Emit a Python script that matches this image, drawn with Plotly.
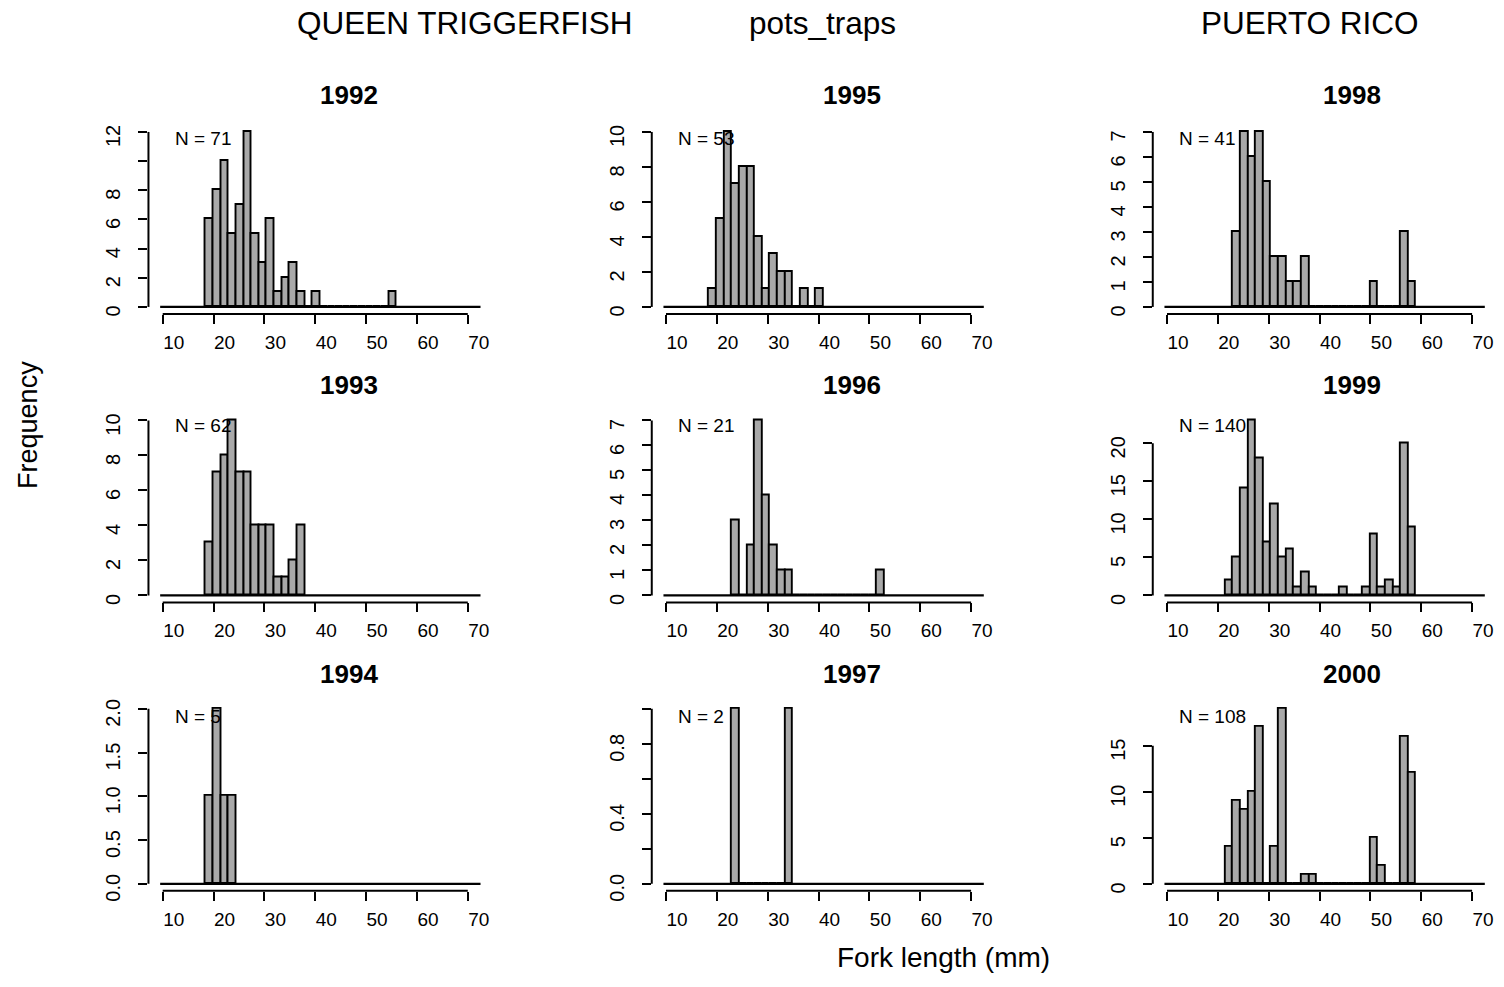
import plotly.graph_objects as go

# ---------------- data ----------------
BREAK_START = 9.5          # first histogram break (mm)
BIN_WIDTH = 1.5            # histogram bin width (mm)
N_BINS = 42                # number of bins (breaks 9.5 .. 72.5)

years = [1992, 1993, 1994, 1995, 1996, 1997, 1998, 1999, 2000]

# index of the first listed bin, followed by counts of consecutive bins
first_bin = {1992: 6, 1993: 6, 1994: 6, 1995: 6, 1996: 9, 1997: 9,
             1998: 9, 1999: 8, 2000: 8}
counts_1992 = [6, 8, 10, 5, 7, 12, 5, 3, 6, 1, 2, 3, 1, 0, 1, 0, 0, 0, 0, 0, 0, 0, 0, 0, 1]
counts_1993 = [3, 7, 8, 10, 7, 7, 4, 4, 4, 1, 1, 2, 4]
counts_1994 = [1, 2, 1, 1]
counts_1995 = [1, 5, 10, 7, 8, 8, 4, 1, 3, 2, 2, 0, 1, 0, 1]
counts_1996 = [3, 0, 2, 7, 4, 2, 1, 1, 0, 0, 0, 0, 0, 0, 0, 0, 0, 0, 0, 1]
counts_1997 = [1, 0, 0, 0, 0, 0, 0, 1]
counts_1998 = [3, 7, 6, 7, 5, 2, 2, 1, 1, 2, 0, 0, 0, 0, 0, 0, 0, 0, 1, 0, 0, 0, 3, 1]
counts_1999 = [2, 5, 14, 23, 18, 7, 12, 5, 6, 1, 3, 1, 0, 0, 0, 1, 0, 0, 1, 8, 1, 2, 1, 20, 9]
counts_2000 = [4, 9, 8, 10, 17, 0, 4, 19, 0, 0, 1, 1, 0, 0, 0, 0, 0, 0, 0, 5, 2, 0, 0, 16, 12]
counts = {1992: counts_1992, 1993: counts_1993, 1994: counts_1994,
          1995: counts_1995, 1996: counts_1996, 1997: counts_1997,
          1998: counts_1998, 1999: counts_1999, 2000: counts_2000}

x_ticks = [10, 20, 30, 40, 50, 60, 70]
y_ticks = {
    1992: [0, 2, 4, 6, 8, 10, 12],
    1993: [0, 2, 4, 6, 8, 10],
    1994: [0, 0.5, 1.0, 1.5, 2.0],
    1995: [0, 2, 4, 6, 8, 10],
    1996: [0, 1, 2, 3, 4, 5, 6, 7],
    1997: [0, 0.2, 0.4, 0.6, 0.8, 1.0],
    1998: [0, 1, 2, 3, 4, 5, 6, 7],
    1999: [0, 5, 10, 15, 20],
    2000: [0, 5, 10, 15],
}
y_ticktext = {
    1992: ["0", "2", "4", "6", "8", "", "12"],
    1993: ["0", "2", "4", "6", "8", "10"],
    1994: ["0.0", "0.5", "1.0", "1.5", "2.0"],
    1995: ["0", "2", "4", "6", "8", "10"],
    1996: ["0", "1", "2", "3", "4", "5", "6", "7"],
    1997: ["0.0", "", "0.4", "", "0.8", ""],
    1998: ["0", "1", "2", "3", "4", "5", "6", "7"],
    1999: ["0", "5", "10", "15", "20"],
    2000: ["0", "5", "10", "15"],
}
top_titles = ["QUEEN TRIGGERFISH", "pots_traps", "PUERTO RICO"]
x_title = "Fork length (mm)"
y_title = "Frequency"

# ---------------- geometry (pixels) ----------------
W, H = 1504, 987
FONT = "Liberation Sans, Arial, Helvetica, sans-serif"
col_tick10 = [162.7, 666.0, 1167.0]     # pixel x of the "10" tick per column
row_base = [308.3, 601.0, 893.5]        # pixel y of zero per row
PX_PER_MM = 5.085
Y_SPAN = 177.5                          # pixels from 0 to max count
XMIN = 7.2
PANEL_W = 345.0
title_x = [349, 852, 1352]
title_y = [93, 388, 681]
nlab_y = [137, 429, 724]
top_title_x = [464, 822, 1310]

fig = go.Figure()
layout = dict(width=W, height=H, margin=dict(l=0, r=0, t=0, b=0),
              paper_bgcolor="white", plot_bgcolor="white", showlegend=False,
              bargap=0, font=dict(family=FONT, color="black"))
shapes = []
annotations = []

for k, yr in enumerate(years):
    c, r = k // 3, k % 3
    n = k + 1
    xa = "xaxis" if n == 1 else f"xaxis{n}"
    ya = "yaxis" if n == 1 else f"yaxis{n}"
    xr = "x" if n == 1 else f"x{n}"
    yr_ref = "y" if n == 1 else f"y{n}"

    cnt = counts[yr]
    i0 = first_bin[yr]
    centers = [BREAK_START + BIN_WIDTH * (i0 + j + 0.5) for j in range(len(cnt))]
    M = max(cnt)

    left = col_tick10[c] - (10 - XMIN) * PX_PER_MM
    right = left + PANEL_W
    bottom = row_base[r] + 0.04 * Y_SPAN
    top = row_base[r] - 1.04 * Y_SPAN

    fig.add_trace(go.Bar(x=centers, y=cnt, width=BIN_WIDTH, xaxis=xr, yaxis=yr_ref,
                         marker=dict(color="#a9a9a9", line=dict(color="black", width=1.9)),
                         hoverinfo="x+y"))

    layout[xa] = dict(domain=[left / W, right / W], range=[XMIN, XMIN + PANEL_W / PX_PER_MM],
                      anchor=yr_ref, showgrid=False, zeroline=False, showline=False,
                      ticks="outside", ticklen=9, tickwidth=2, tickcolor="black",
                      tickvals=x_ticks, ticktext=[str(v) for v in x_ticks],
                      tickfont=dict(size=19, family=FONT), ticklabelstandoff=2,
                      ticklabelshift=11, fixedrange=True)
    layout[ya] = dict(domain=[1 - bottom / H, 1 - top / H], range=[-0.04 * M, 1.04 * M],
                      anchor=xr, showgrid=False, zeroline=False, showline=False,
                      ticks="outside", ticklen=9, tickwidth=2, tickcolor="black",
                      tickvals=y_ticks[yr], ticktext=y_ticktext[yr], tickangle=-90,
                      tickfont=dict(size=20, family=FONT), ticklabelstandoff=10,
                      ticklabelshift=7, fixedrange=True)

    # zero-height bins of the histogram (baseline across all breaks)
    shapes.append(dict(type="line", xref=xr, yref=yr_ref, x0=BREAK_START,
                       x1=BREAK_START + N_BINS * BIN_WIDTH, y0=0, y1=0,
                       line=dict(color="black", width=2.2), layer="above"))
    # x axis line spanning first..last tick
    shapes.append(dict(type="line", xref=xr, yref=f"{yr_ref} domain", x0=x_ticks[0],
                       x1=x_ticks[-1], y0=0, y1=0, line=dict(color="black", width=2)))
    # y axis line spanning first..last tick
    shapes.append(dict(type="line", xref=f"{xr} domain", yref=yr_ref, x0=0, x1=0,
                       y0=y_ticks[yr][0], y1=y_ticks[yr][-1],
                       line=dict(color="black", width=2)))

    annotations.append(dict(text=f"<b>{yr}</b>", xref="paper", yref="paper",
                            x=title_x[c] / W, y=1 - title_y[r] / H, showarrow=False,
                            xanchor="center", yanchor="middle",
                            font=dict(size=26, family=FONT)))
    annotations.append(dict(text=f"N = {sum(cnt)}", xref=xr, yref="paper", x=12,
                            y=1 - nlab_y[r] / H, showarrow=False, xanchor="left",
                            yanchor="middle", font=dict(size=19, family=FONT)))

for t, tx in zip(top_titles, top_title_x):
    annotations.append(dict(text=t, xref="paper", yref="paper", x=tx / W, y=1 - 20 / H,
                            showarrow=False, xanchor="center", yanchor="middle",
                            font=dict(size=31.5, family=FONT)))

annotations.append(dict(text=y_title, xref="paper", yref="paper", x=28 / W, y=1 - 428 / H,
                        showarrow=False, textangle=-90, xanchor="center", yanchor="middle",
                        font=dict(size=27, family=FONT)))
annotations.append(dict(text=x_title, xref="paper", yref="paper", x=943 / W, y=1 - 968 / H,
                        showarrow=False, xanchor="center", yanchor="middle",
                        font=dict(size=28, family=FONT)))

layout["shapes"] = shapes
layout["annotations"] = annotations
fig.update_layout(**layout)
fig.write_html("out.html", config={"displayModeBar": False})

# remove the default page margin so the 1504x987 figure fills the window exactly
with open("out.html", "r", encoding="utf-8") as fh:
    html = fh.read()
html = html.replace("<head>", "<head><style>html,body{margin:0;padding:0;overflow:hidden;}</style>", 1)
with open("out.html", "w", encoding="utf-8") as fh:
    fh.write(html)
